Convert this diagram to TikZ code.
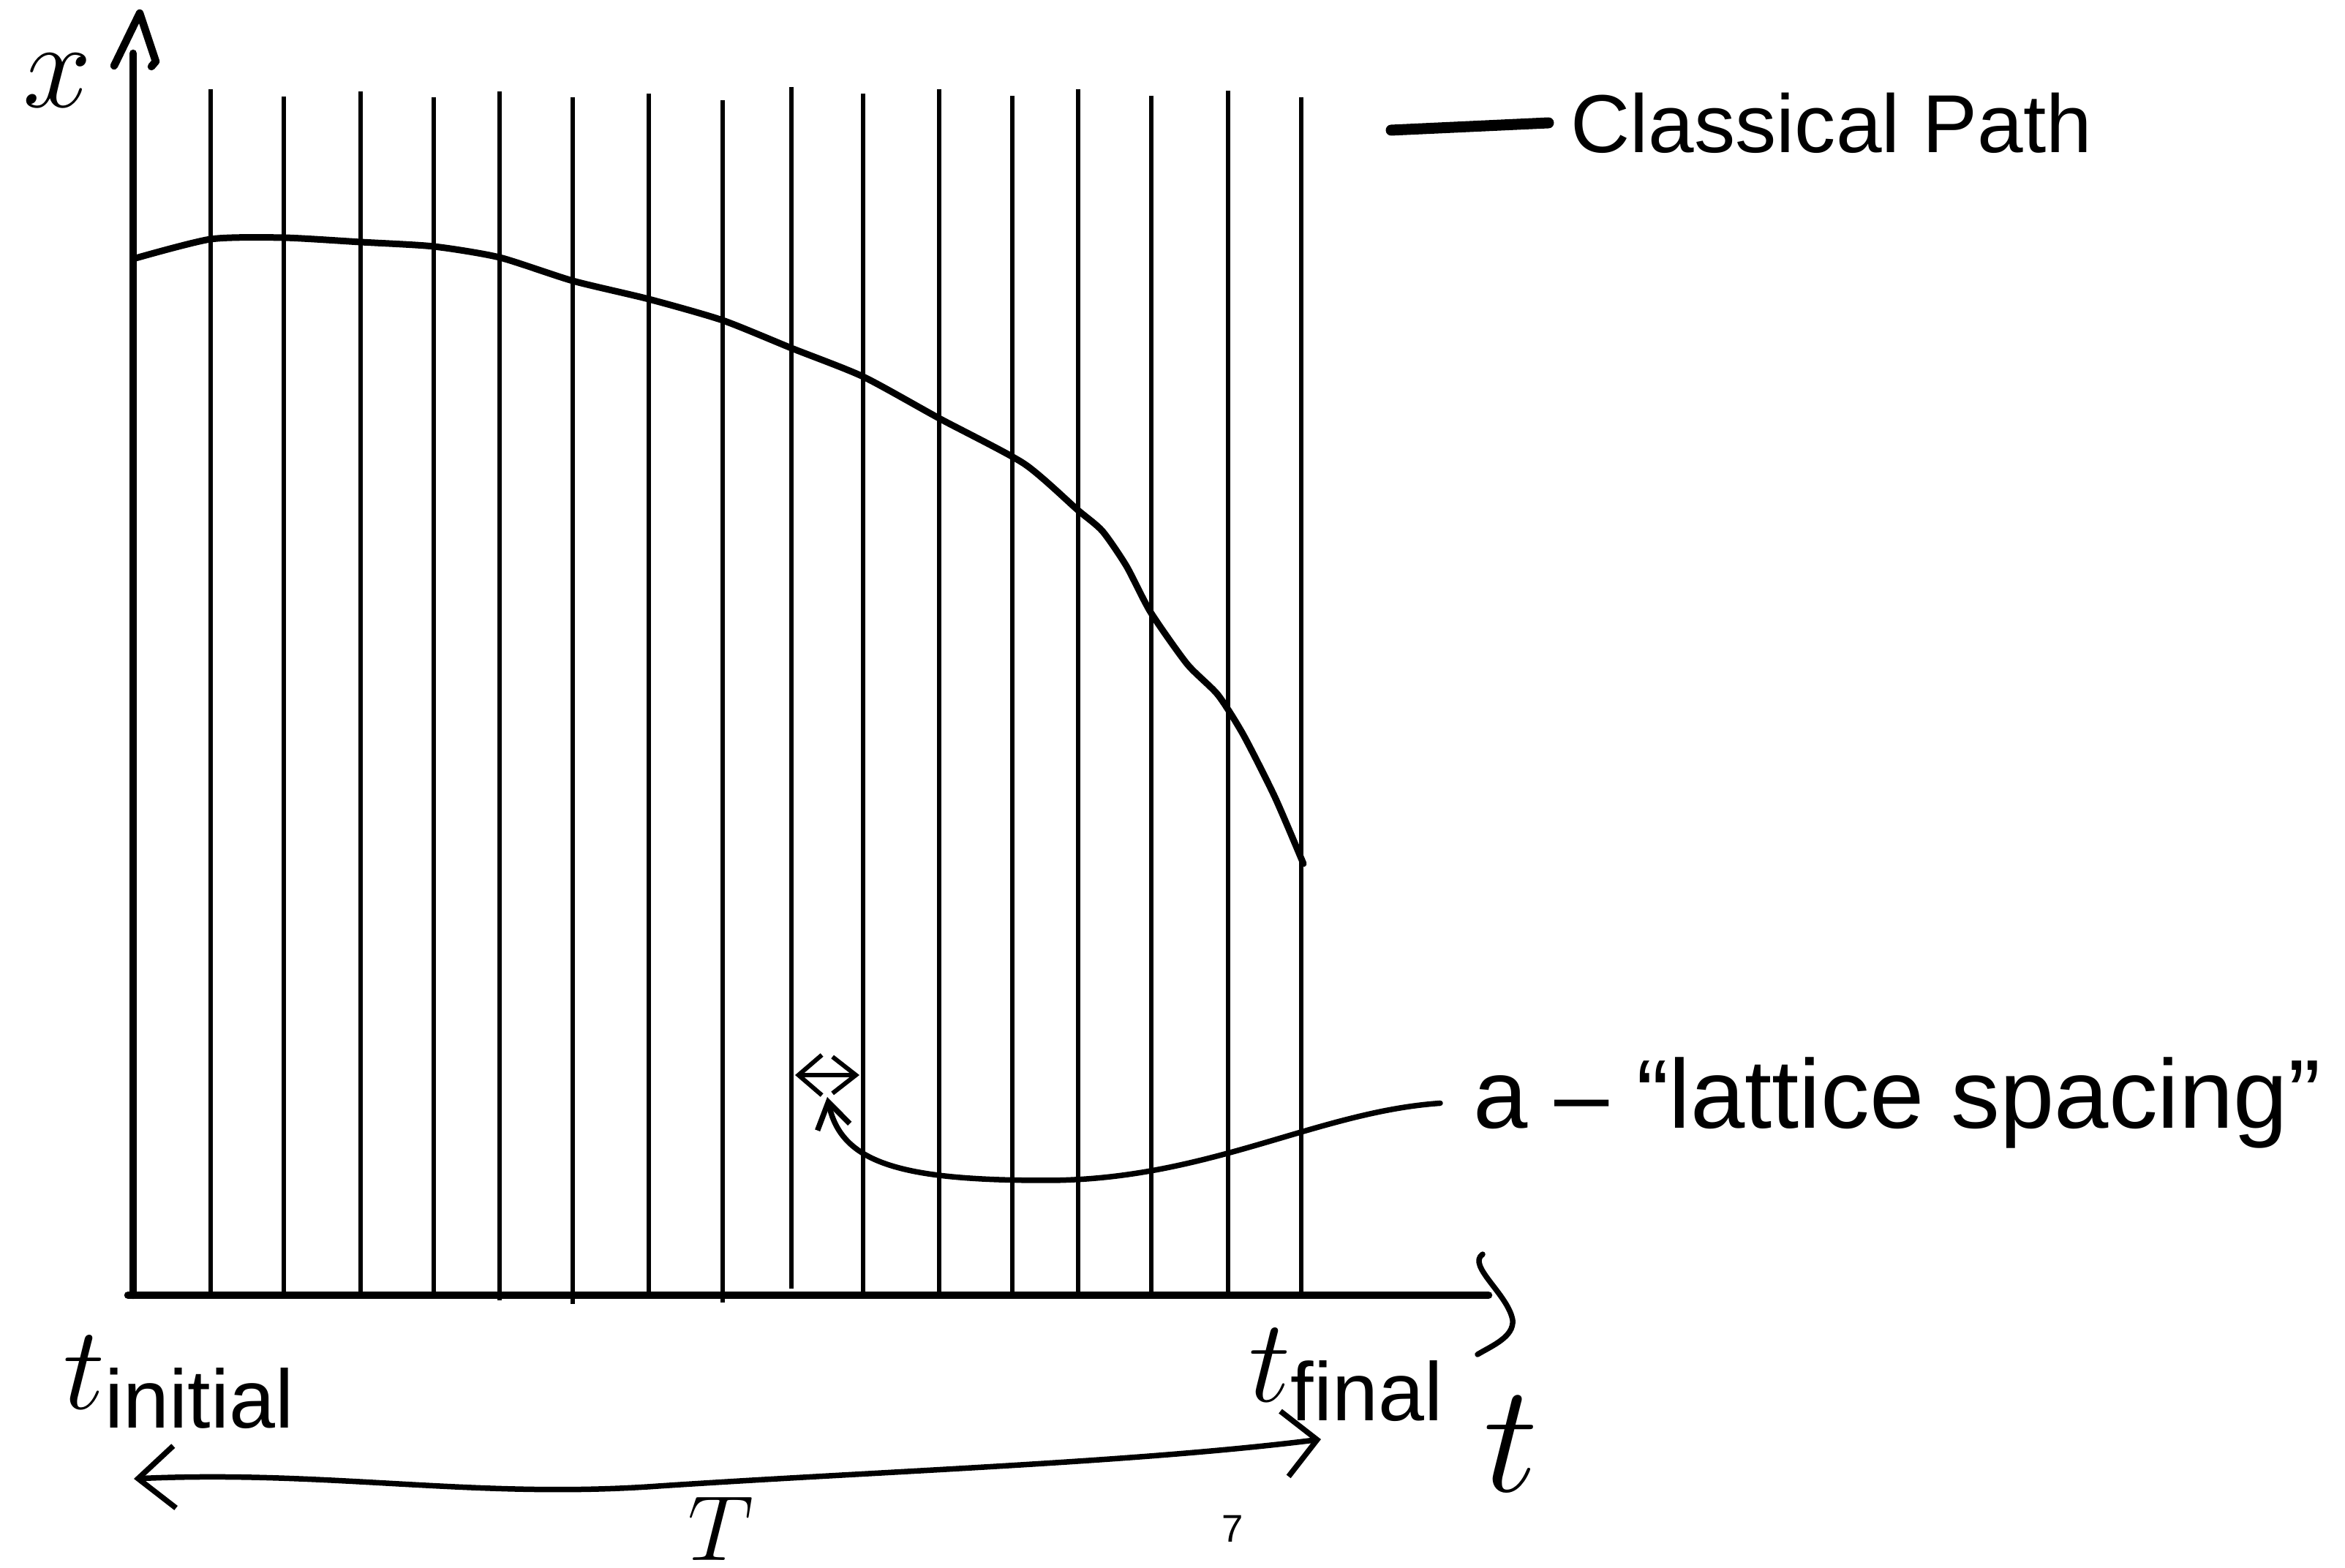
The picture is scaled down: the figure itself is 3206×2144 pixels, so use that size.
\documentclass[tikz,border=0pt]{standalone}
\usepackage{fix-cm}
\usepackage{fontspec}
\setmainfont{Liberation Sans}
\usetikzlibrary{arrows.meta}

\tikzset{
    gridline/.style={line width=0.55mm},
    axis/.style={line width=1.05mm, line cap=round, line join=round},
    pathline/.style={line width=0.9mm, line cap=round, line join=round},
    hand/.style={line width=0.75mm, line cap=round, line join=round},
    label/.style={inner sep=0pt},
}

\begin{document}
\begin{tikzpicture}[x=0.1mm,y=-0.1mm]
    \useasboundingbox (0,0) rectangle (3206,2144);
    \coordinate (origin) at (182,1771);
    \coordinate (xtop) at (182,73);
    \coordinate (tleft) at (175,1771);
    \coordinate (tend) at (2035,1771);
    \foreach \x/\top/\bot in {288/122/1771, 388/132/1771, 493/125/1771, 593/133/1771,
        683/125/1778, 783/133/1783, 887/128/1771, 988/137/1781, 1082/119/1762,
        1180/128/1771, 1284/122/1771, 1384/131/1771, 1474/122/1771, 1574/131/1771,
        1679/124/1771, 1779/133/1771}
        \draw[gridline] (\x,\top) -- (\x,\bot);
    \draw[axis] (origin) -- (xtop);
    \draw[axis] (156,90) -- (191,18) -- (213,84) -- (207,91);
    \draw[axis] (tleft) -- (tend);
    \draw[hand] (2027,1715) .. controls (2005,1730) and (2062,1770) .. (2068,1805)
        .. controls (2070,1828) and (2040,1840) .. (2020,1852);
    \draw[pathline] plot[smooth, tension=0.4] coordinates {(182,354) (288,327) (388,325)
        (493,331) (593,337) (683,352) (783,384) (887,409) (988,438) (1082,476) (1180,515)
        (1284,572) (1400,634) (1473,697) (1507,726) (1540,774) (1573,837) (1623,908)
        (1665,950) (1700,1005) (1743,1090) (1782,1181)};

    \node[label, font=\fontsize{48}{56}\selectfont] (xlab) at (78,110) {$x$};
    \node[label, anchor=west, font=\fontsize{32}{38}\selectfont] (legend) at (2147,168) {Classical Path};
    \draw[line width=1.5mm, line cap=round] ([xshift=-24.5mm,yshift=-1mm]legend.west) -- ([xshift=-3mm]legend.west);

    \node[label, anchor=base west, font=\fontsize{38}{44}\selectfont] (spacing) at (2014,1543) {a -- ``lattice spacing''};
    \coordinate (gap) at (1131,1470);
    \draw[line width=0.6mm, {Straight Barb[length=3.2mm,width=5.5mm]}-{Straight Barb[length=3.2mm,width=5mm]}]
        ([xshift=-4.4mm]gap) -- ([xshift=4.4mm]gap);
    \draw[hand, -{Straight Barb[length=3.5mm,width=4.5mm]}] ([xshift=-4.5mm]spacing.west)
        .. controls (1800,1520) and (1650,1614) .. (1430,1614)
        .. controls (1230,1614) and (1150,1590) .. ([yshift=-3mm]gap);

    \node[label, font=\fontsize{46}{54}\selectfont] (tini) at (245,1890) {$t_{\mathrm{initial}}$};
    \node[label, font=\fontsize{46}{54}\selectfont] (tfinal) at (1841,1880) {$t_{\mathrm{final}}$};
    \node[label, font=\fontsize{60}{70}\selectfont] (taxis) at (2066,1975) {$t$};

    \coordinate (tstart) at (183,2022);
    \coordinate (tstop) at (1806,1968);
    \draw[hand, {Straight Barb[length=5mm,width=8.5mm]}-{Straight Barb[length=4.5mm,width=9mm]}]
        (tstart) .. controls (450,2010) and (650,2050) .. (900,2032)
        .. controls (1200,2012) and (1550,2000) .. (tstop);
    \node[label, anchor=north, font=\fontsize{36}{42}\selectfont] (span) at (985,2046) {$T$};
    \node[label, font=\fontsize{15}{18}\selectfont] (page) at (1685,2090) {7};
\end{tikzpicture}
\end{document}
